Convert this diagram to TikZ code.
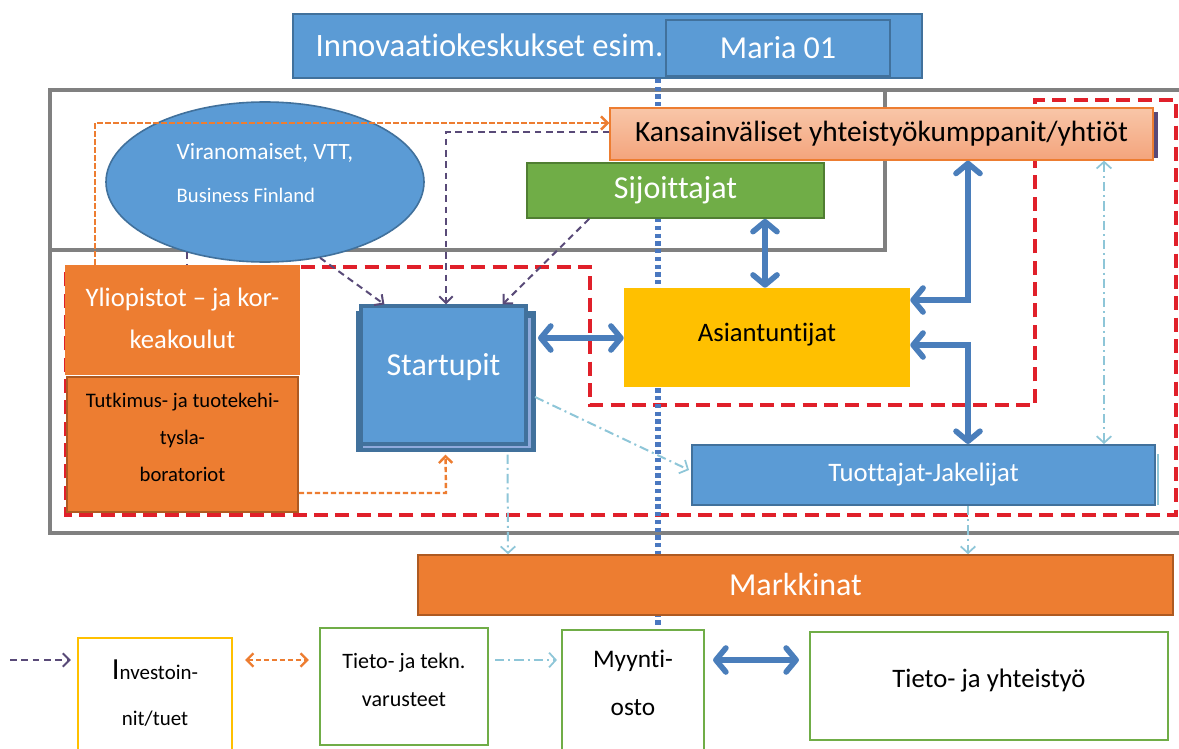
\documentclass[tikz,border=0pt]{standalone}
\usepackage{fontspec}
\setmainfont{Carlito}[Ligatures=NoCommon]
\usetikzlibrary{arrows.meta,calc,shapes.geometric,backgrounds}

\definecolor{boxblue}{HTML}{5B9BD5}
\definecolor{boxblueline}{HTML}{41719C}
\definecolor{boxorange}{HTML}{ED7D31}
\definecolor{boxorangeline}{HTML}{AE5A21}
\definecolor{boxgreen}{HTML}{70AD47}
\definecolor{boxgreenline}{HTML}{507E32}
\definecolor{boxyellow}{HTML}{FFC000}
\definecolor{salmontop}{HTML}{F8C6A8}
\definecolor{salmonbot}{HTML}{F4A47C}
\definecolor{framegray}{HTML}{808080}
\definecolor{zonered}{HTML}{E0202A}
\definecolor{dotblue}{HTML}{4A78C0}
\definecolor{flowblue}{HTML}{4A7EBB}
\definecolor{investpurple}{HTML}{594A78}
\definecolor{infocyan}{HTML}{8EC6D8}
\definecolor{stripblue}{HTML}{8FAADC}

\pgfdeclarelayer{canvas}
\pgfsetlayers{canvas,background,main}

\tikzset{
  sz/.style 2 args={minimum width=#1*0.75pt, minimum height=#2*0.75pt, inner sep=0pt},
  fnt/.style 2 args={font=\fontsize{#1}{#2}\selectfont},
  lines/.style={align=center, inner sep=0pt},
  bluebox/.style={draw=boxblueline, fill=boxblue, line width=1.5pt, text=white},
  orangebox/.style={draw=boxorangeline, fill=boxorange, line width=1.2pt},
  legendbox/.style={draw=boxgreen, fill=white, line width=1.6pt},
  grayframe/.style={draw=framegray, line width=2.3pt},
  redzone/.style={draw=zonered, line width=2.3pt, dash pattern=on 10.5pt off 5.5pt},
  timeline/.style={draw=dotblue, line width=3.8pt, dash pattern=on 3.2pt off 2.6pt},
  pbarb/.tip={Straight Barb[length=5pt,width=10pt,line width=1.5pt]},
  obarb/.tip={Straight Barb[length=5pt,width=10pt,line width=1.8pt]},
  bbarb/.tip={Straight Barb[length=7.5pt,width=18pt,line width=4.2pt,round]},
  cbarb/.tip={Straight Barb[length=5pt,width=11pt,line width=1.3pt]},
  investflow/.style={draw=investpurple, line width=1.5pt, dash pattern=on 5pt off 3.5pt, -pbarb},
  techflow/.style={draw=boxorange, line width=1.8pt, dash pattern=on 4pt off 2pt, -obarb},
  tradeflow/.style={draw=flowblue, line width=4.2pt, bbarb-bbarb},
  infoflow/.style={draw=infocyan, line width=1.5pt, dash pattern=on 7pt off 3pt on 1.5pt off 3pt, -cbarb},
}

\begin{document}
\begin{tikzpicture}[x=0.75pt,y=-0.75pt]
\useasboundingbox (0,0) rectangle (1179,749);
\begin{pgfonlayer}{canvas}
  \fill[white] (0,0) rectangle (1179,749);
\end{pgfonlayer}

% ---------- boxes ----------
\node[bluebox, sz={629}{64}] (innov) at (607.5,46) {};
\node[anchor=west, text=white, fnt={24.5}{28}] (innovtxt) at (311,45) {Innovaatiokeskukset esim.};
\node[bluebox, sz={224}{56}, fnt={24}{28}] (maria) at (778,48) {Maria 01};

\node[ellipse, draw=boxblueline, fill=boxblue, line width=1.2pt, sz={318}{160}] (ell) at (265,182) {};
\node[anchor=west, text=white, fnt={17.5}{20}] (elltxt1) at (172,153) {Viranomaiset, VTT,};
\node[anchor=west, text=white, fnt={15.5}{18}] (elltxt2) at (172,195) {Business Finland};

\node[draw=boxorange, top color=salmontop, bottom color=salmonbot, line width=1pt,
      sz={543}{52}, fnt={22}{26}] (kans) at (881.5,134) {Kansainväliset yhteistyökumppanit/yhtiöt};
\node[draw=boxgreenline, fill=boxgreen, line width=1.3pt, sz={297}{55}, text=white,
      fnt={24}{28}] (sij) at (675.5,190.5) {Sijoittajat};
\node[fill=boxyellow, sz={286}{99}] (asi) at (767,337.5) {};
\node[fnt={20}{24}] (asitxt) at (767,334.5) {Asiantuntijat};

\node[fill=boxorange, sz={235}{110}] (yli) at (182.5,320) {};
\node[lines, text=white, fnt={20}{32}] (yliTxt) at (182.5,318.5) {Yliopistot -- ja kor-\\keakoulut};
\node[orangebox, sz={231}{135}] (tut) at (182.5,444.5) {};
\node[lines, fnt={15.5}{28}] (tuttxt) at (182.5,437.5) {Tutkimus- ja tuotekehi-\\tysla-\\boratoriot};

% Startupit: layered box
\fill[boxblueline] (356,311) rectangle (536,452);
\fill[stripblue] (363,318) rectangle (531,448);
\node[bluebox, line width=2.4pt, sz={165}{138}] (start) at (443.5,375) {};
\node[text=white, fnt={24}{28}] (starttxt) at (443.5,367) {Startupit};

\draw[infocyan, line width=1.6pt] (1158,454) -- (1158,505);
\node[bluebox, sz={463}{60}, fnt={20}{24}] (tuot) at (923.5,475) {Tuottajat-Jakelijat};
\node[orangebox, sz={755}{60}, text=white, fnt={24}{28}] (mark) at (795.5,585) {Markkinat};

% ---------- legend row ----------
\node[legendbox, draw=boxyellow, sz={154}{117}] (inv) at (155,696.5) {};
\node[lines, fnt={15.7}{34.5}] (invtxt) at (155,693.5) {{\fontsize{23}{23}\selectfont I}nvestoin-\\nit/tuet};
\node[legendbox, sz={168}{117}] (tek) at (404,686.5) {};
\node[lines, fnt={16.5}{28.5}] (tektxt) at (404,679.5) {Tieto- ja tekn.\\varusteet};
\node[legendbox, sz={142}{125}] (myy) at (633,692.5) {};
\node[lines, fnt={19}{36}] (myytxt) at (633,683) {Myynti-\\osto};
\node[legendbox, sz={358}{108}] (yht) at (989,686) {};
\node[fnt={20}{24}] (yhttxt) at (989,681) {Tieto- ja yhteistyö};

% ---------- background structure ----------
\begin{scope}[on background layer]
  \draw[grayframe] (1179,90) -- (50,90) -- (50,533) -- (1179,533);
  \draw[grayframe] (885,90) -- (885,250) -- (50,250);
  \draw[redzone] (66,267) -- (590,267) -- (590,405) -- (1035,405) -- (1035,100)
    -- (1176,100) -- (1176,515) -- (66,515) -- cycle;
  \draw[timeline] (innov.south -| 658,0) -- (658,628);
\end{scope}

% ---------- connectors ----------
% investments
\coordinate (pturn) at (446,132);
\draw[investflow] (pturn -| kans.west) -- (pturn) -- (pturn |- start.north);
\draw[investflow] (ell.-54) -- ($(start.north west)+(25,0)$);
\draw[investflow] ($(sij.south west)+(63,0)$) -- ($(start.north east)+(-25,0)$);
\draw[investpurple, line width=1.5pt, dash pattern=on 5pt off 3.5pt] (ell.-138) -- (yli.north -| ell.-138);
\draw[investpurple, line width=3pt] ($(kans.north east)+(2,5)$) -- ($(kans.south east)+(2,-3)$);

% knowledge and technology
\coordinate (oturn) at (95,123);
\draw[techflow] (yli.north -| oturn) -- (oturn) -- (oturn -| kans.west);
\coordinate (oturn2) at (446,493);
\draw[techflow] (tut.east |- oturn2) -- (oturn2) -- ($(start.south)+(2,9)$);

% trade
\draw[tradeflow] (sij.south -| 765,0) -- (asi.north -| 765,0);
\draw[tradeflow] (538,338) -- (asi.west |- 0,338);
\coordinate (bturn1) at (968,300);
\draw[tradeflow] (kans.south -| bturn1) -- (bturn1) -- (bturn1 -| asi.east);
\coordinate (bturn2) at (968,345);
\draw[tradeflow] (asi.east |- bturn2) -- (bturn2) -- (bturn2 |- tuot.north);

% information
\draw[infoflow] (535,397) -- ($(tuot.west)+(-2,-5)$);
\draw[infoflow] ($(start.south)+(64,9)$) -- (mark.north -| 508,0);
\draw[infoflow] (tuot.south -| 968,0) -- (mark.north -| 968,0);
\draw[infoflow, cbarb-cbarb] (kans.south -| 1104,0) -- (tuot.north -| 1104,0);

% legend connectors
\draw[investflow] (10,660) -- ($(inv.west |- 0,660)+(-6,0)$);
\draw[techflow, obarb-obarb] ($(inv.east |- 0,660)+(12,0)$) -- ($(tek.west |- 0,660)+(-10,0)$);
\draw[infoflow] ($(tek.east |- 0,660)+(6,0)$) -- ($(myy.west |- 0,660)+(-4,0)$);
\draw[tradeflow] ($(myy.east |- 0,660)+(8,0)$) -- ($(yht.west |- 0,660)+(-10,0)$);
\end{tikzpicture}
\end{document}
